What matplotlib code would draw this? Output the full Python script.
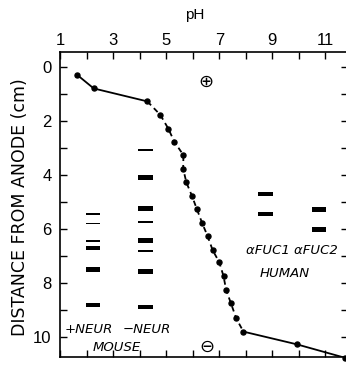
import matplotlib
matplotlib.use("Agg")
import matplotlib.pyplot as plt
import numpy as np

# titration curve: pH vs distance from anode (cm)
curve_ph = [1.65, 2.27, 4.29, 4.78, 5.08, 5.31, 5.65, 5.64, 5.76, 5.97, 6.16, 6.36,
            6.56, 6.75, 7.00, 7.16, 7.26, 7.44, 7.64, 7.91, 9.92, 11.74]
curve_dist = [0.29, 0.79, 1.27, 1.77, 2.28, 2.77, 3.26, 3.76, 4.27, 4.77, 5.27, 5.79,
              6.26, 6.78, 7.23, 7.74, 8.26, 8.75, 9.31, 9.80, 10.27, 10.77]

# band columns (pH position of column) and band positions (cm) / thickness
col_ph = {"+NEUR": 2.24, "-NEUR": 4.22, "aFUC1": 8.73, "aFUC2": 10.76}
col_halfwidth = [0.26, 0.27, 0.28, 0.28]
plus_neur_bands = [5.44, 5.79, 6.44, 6.70, 7.49, 8.81]
plus_neur_thick = [0.07, 0.06, 0.08, 0.18, 0.18, 0.16]
minus_neur_bands = [3.07, 4.10, 5.23, 5.73, 6.42, 6.81, 7.56, 8.89]
minus_neur_thick = [0.06, 0.18, 0.18, 0.07, 0.18, 0.07, 0.18, 0.18]
afuc1_bands = [4.70, 5.44]
afuc1_thick = [0.16, 0.18]
afuc2_bands = [5.27, 6.01]
afuc2_thick = [0.18, 0.18]

top_ticks = list(range(1, 12))
top_labels = ["1", "", "3", "", "5", "", "7", "", "9", "", "11"]
y_ticks = list(range(0, 11))
y_labels = ["0", "", "2", "", "4", "", "6", "", "8", "", "10"]

plt.rcParams['font.family'] = ['Liberation Sans', 'DejaVu Sans']

fig = plt.figure(figsize=(3.46, 3.66), dpi=100)
ax = fig.add_axes([60/346, 9/366, 288/346, 305/366])
ax.set_xlim(1.0, 11.85)
ax.set_ylim(10.74, -0.56)

# curve
ax.plot(curve_ph[:3], curve_dist[:3], color='black', lw=1.3, solid_capstyle='butt')
ax.plot(curve_ph[2:20], curve_dist[2:20], color='black', lw=1.3, ls=(0, (3, 2.2)))
ax.plot(curve_ph[19:], curve_dist[19:], color='black', lw=1.3)
ax.plot(curve_ph, curve_dist, 'o', color='black', ms=3.6, clip_on=False)

# bands
groups = [("+NEUR", plus_neur_bands, plus_neur_thick),
          ("-NEUR", minus_neur_bands, minus_neur_thick),
          ("aFUC1", afuc1_bands, afuc1_thick),
          ("aFUC2", afuc2_bands, afuc2_thick)]
for (name, bands, thick), hw in zip(groups, col_halfwidth):
    c = col_ph[name]
    ax.barh(bands, [2 * hw] * len(bands), left=c - hw, height=thick,
            color='black', edgecolor='none')

# labels
lab = dict(fontsize=9.5, style='italic', ha='center', va='center', family=['DejaVu Sans'])
ax.text(2.08, 9.72, "+NEUR", **lab)
ax.text(4.27, 9.72, "\u2212NEUR", **lab)
ax.text(3.13, 10.4, "MOUSE", **lab)
ax.text(9.72, 6.8, "\u03b1FUC1 \u03b1FUC2", **lab)
ax.text(9.48, 7.65, "HUMAN", **lab)

ax.text(6.51, 0.56, "\u2295", fontsize=13, ha='center', va='center', family=['DejaVu Sans'])
ax.text(6.54, 10.36, "\u2296", fontsize=13, ha='center', va='center', family=['DejaVu Sans'])

# axes styling
ax.spines['right'].set_visible(False)
for s in ['top', 'left', 'bottom']:
    ax.spines[s].set_linewidth(1.2)
ax.xaxis.tick_top()
ax.set_xticks(top_ticks)
ax.set_xticklabels(top_labels)
ax.tick_params(axis='x', which='both', direction='in', length=5, width=1,
               top=True, bottom=True, labeltop=True, labelbottom=False,
               labelsize=12, pad=3)
ax.set_yticks(y_ticks)
ax.set_yticklabels(y_labels)
ax.tick_params(axis='y', direction='in', length=5, width=1, left=True, right=True,
               labelsize=12, pad=6)
ax.xaxis.set_label_position('top')
ax.set_xlabel("pH", fontsize=11)
ax.xaxis.label.set_va('center')
ax.xaxis.set_label_coords(0.469, 1.121)
ax.set_ylabel("DISTANCE FROM ANODE (cm)", fontsize=12.5, family=['DejaVu Sans'])
ax.yaxis.label.set_va('center')
ax.yaxis.set_label_coords(-0.139, 0.49)

fig.savefig("out.png", dpi=100)
